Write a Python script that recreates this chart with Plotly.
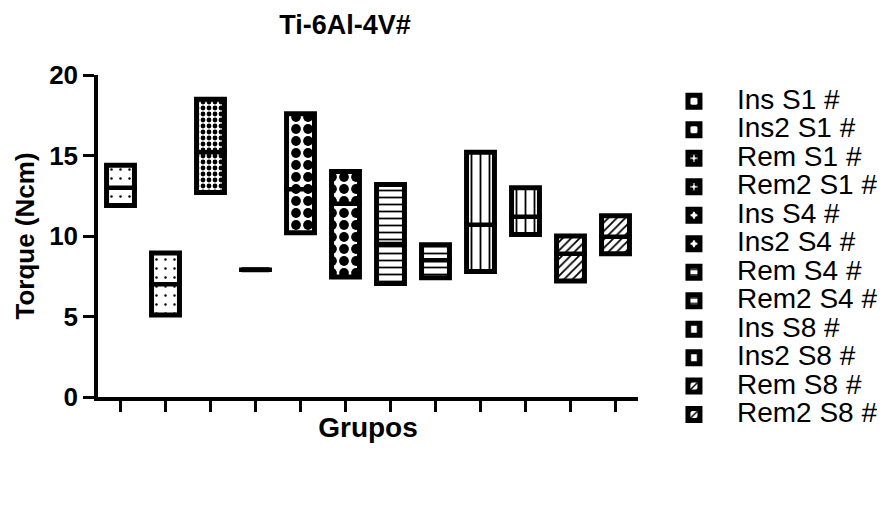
import plotly.graph_objects as go

groups = ["Ins S1 #", "Ins2 S1 #", "Rem S1 #", "Rem2 S1 #", "Ins S4 #", "Ins2 S4 #",
          "Rem S4 #", "Rem2 S4 #", "Ins S8 #", "Ins2 S8 #", "Rem S8 #", "Rem2 S8 #"]
mins = [11.9, 5.1, 12.7, 7.9, 10.2, 7.45, 7.05, 7.4, 7.8, 10.1, 7.2, 8.9]
maxs = [14.4, 8.95, 18.5, 7.9, 17.6, 14.0, 13.2, 9.45, 15.2, 13.0, 10.0, 11.25]
medians = [13.0, 7.0, 15.2, 7.9, 12.9, 12.0, 9.5, 8.5, 10.7, 11.2, 8.9, 9.95]
y_ticks = [0, 5, 10, 15, 20]

patterns = [
    dict(shape=".", size=9, solidity=0.06),
    dict(shape=".", size=9, solidity=0.06),
    dict(shape=".", size=6, solidity=0.5),
    dict(shape=".", size=6, solidity=0.5),
    dict(shape=".", size=12, solidity=0.52),
    dict(shape=".", size=12, solidity=0.52),
    dict(shape="-", size=7, solidity=0.25),
    dict(shape="-", size=7, solidity=0.25),
    dict(shape="|", size=9, solidity=0.2),
    dict(shape="|", size=9, solidity=0.2),
    dict(shape="/", size=6, solidity=0.3),
    dict(shape="/", size=6, solidity=0.3),
]

FONT = "Arial, Liberation Sans, Helvetica, sans-serif"

fig = go.Figure()
for g, lo, hi, pat in zip(groups, mins, maxs, patterns):
    fig.add_trace(go.Bar(
        x=[g], base=[lo], y=[hi - lo],
        width=0.62,
        name=f'<span style="font-size:28px">{g}</span>',
        marker=dict(
            color="white",
            line=dict(color="black", width=5),
            pattern=dict(fgcolor="black", bgcolor="white", fillmode="replace", **pat),
        ),
        hoverinfo="skip",
    ))

fig.add_trace(go.Scatter(
    x=groups, y=medians, mode="markers", showlegend=False,
    marker=dict(symbol="line-ew", size=23.5, color="black",
                line=dict(color="black", width=4.5)),
    hoverinfo="skip",
))

fig.update_layout(
    width=877, height=511,
    margin=dict(l=90, r=247, t=67, b=122, autoexpand=False),
    paper_bgcolor="white", plot_bgcolor="white",
    barmode="overlay",
    font=dict(family=FONT, color="black"),
    title=dict(text="Ti-6Al-4V#", font=dict(size=27, weight="bold", family=FONT),
               x=337 / 877, xanchor="center", xref="container",
               y=1 - 17 / 511, yanchor="middle", yref="container"),
    showlegend=True,
    legend=dict(x=1.024, xanchor="left", y=0.978, yanchor="top",
                font=dict(size=19.6, family=FONT), itemwidth=76,
                bgcolor="rgba(0,0,0,0)", tracegroupgap=0, maxheight=480),
)

fig.update_xaxes(
    type="category", categoryorder="array", categoryarray=groups,
    range=[-0.5, 11.5], showticklabels=False,
    ticks="outside", ticklen=11, tickwidth=3, tickcolor="black",
    showline=True, linewidth=3.5, linecolor="black", showgrid=False, zeroline=False,
    title=dict(text="Grupos", font=dict(size=28, weight="bold", family=FONT), standoff=8),
)
fig.update_yaxes(
    range=[0, 20], tickvals=y_ticks,
    ticks="outside", ticklen=11, tickwidth=3, tickcolor="black",
    tickfont=dict(size=26, weight="bold", family=FONT),
    showline=True, linewidth=3.5, linecolor="black", showgrid=False, zeroline=False,
    title=dict(text="Torque (Ncm)", font=dict(size=26, weight="bold", family=FONT), standoff=8),
)

fig.write_html("out.html")
